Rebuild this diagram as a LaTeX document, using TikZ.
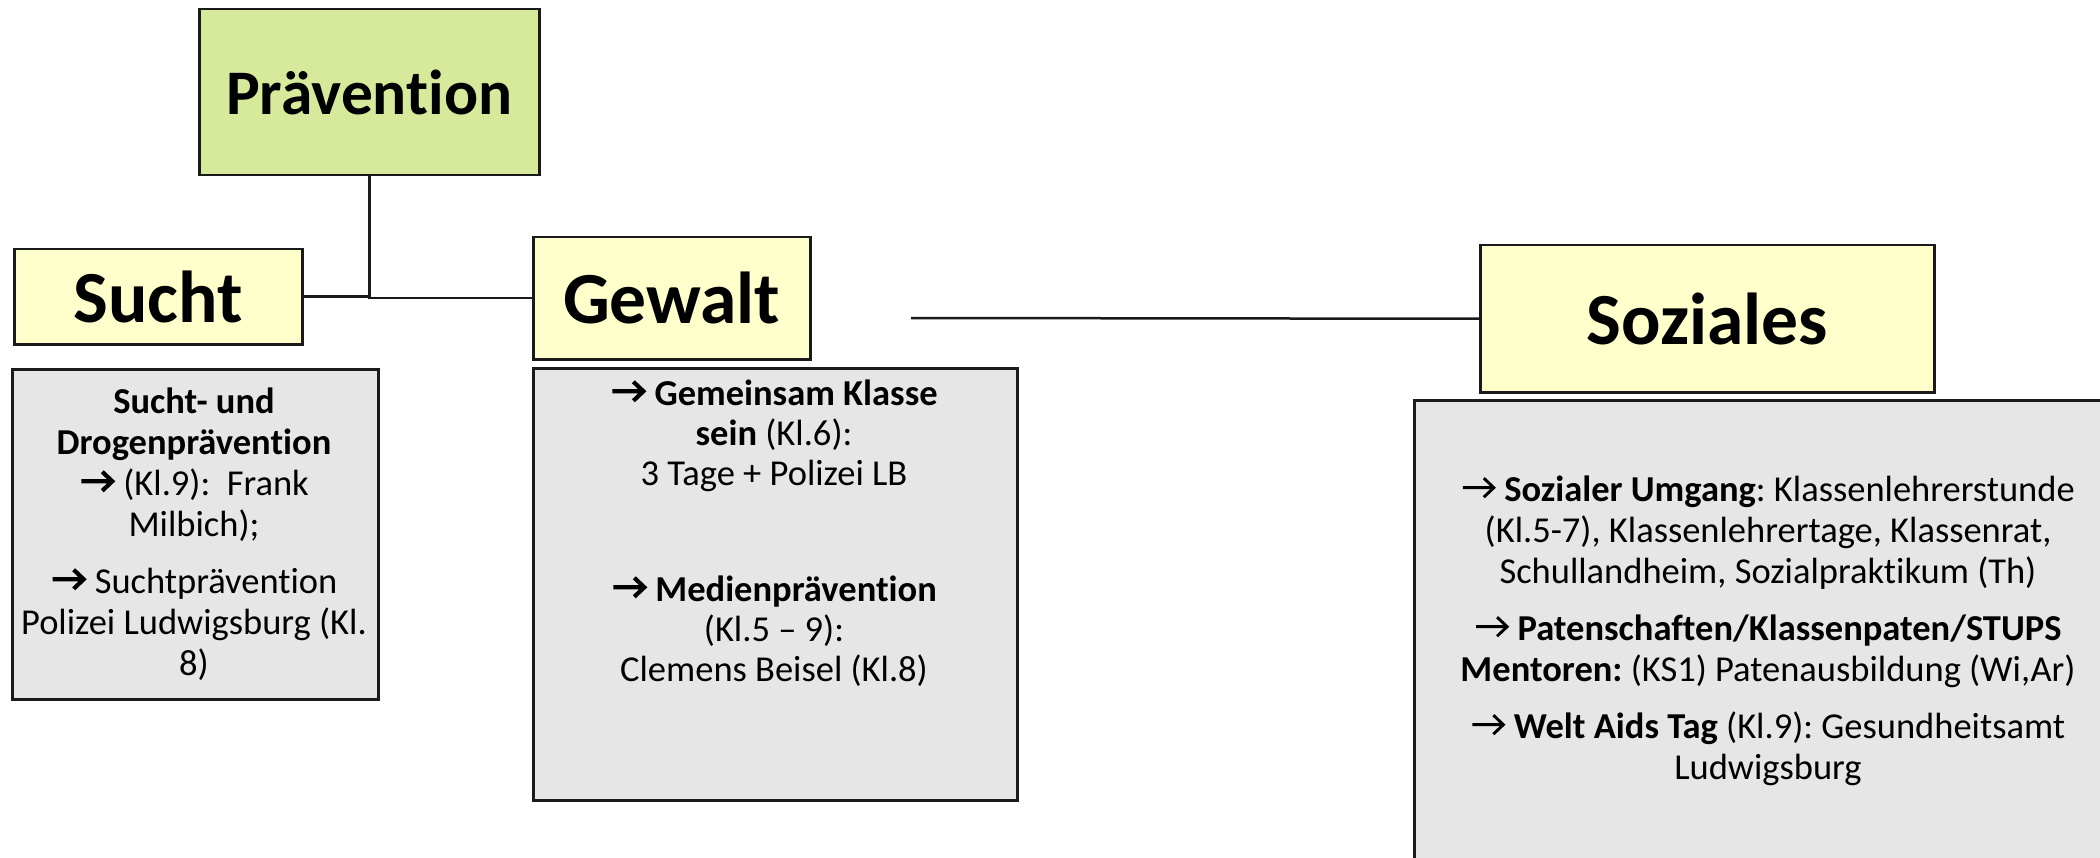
\documentclass[tikz,border=0pt]{standalone}
\usepackage{fontspec}
\setmainfont{Carlito}[Ligatures={NoCommon,NoContextual}]
\frenchspacing
\newcommand{\arrowglyph}[1]{\tikz[baseline=0pt,x=1pt,y=1pt]\draw[line width=#1, line join=miter, line cap=butt, draw=black] (0,14)--(31,14) (21,4.5)--(31,14)--(21,23.5);\hspace{9pt}}
\newcommand{\myarr}{\arrowglyph{2.9pt}}
\newcommand{\myarrb}{\arrowglyph{4.2pt}}
\definecolor{pgreen}{HTML}{D7E99B}
\definecolor{pyellow}{HTML}{FFFFCC}
\definecolor{pgray}{HTML}{E6E6E6}
\definecolor{pline}{HTML}{1A1A1A}
\begin{document}
\frenchspacing
\begin{tikzpicture}[x=1pt,y=-1pt,
  boxbase/.style={draw=pline, line width=2.5pt, inner sep=0pt, anchor=north west},
  greenbox/.style={boxbase, fill=pgreen, font=\fontsize{63.5}{74}\selectfont\bfseries},
  yellowbox/.style={boxbase, fill=pyellow, font=\fontsize{73.5}{86}\selectfont\bfseries},
  graybox/.style={boxbase, fill=pgray},
  bodytext/.style={align=center, inner sep=0pt, font=\fontsize{36.5}{41}\selectfont\frenchspacing},
  conn/.style={draw=pline, line width=2.5pt}]
\useasboundingbox (0,0) rectangle (2100,858);
\clip (0,0) rectangle (2100,858);

\node[greenbox, minimum width=340pt, minimum height=166pt] (prae) at (198,8) {Prävention};
\node[yellowbox, minimum width=288pt, minimum height=95pt] (sucht) at (13,248) {Sucht};
\node[yellowbox, minimum width=277pt, minimum height=122pt] (gewalt) at (532,236) {Gewalt};
\node[yellowbox, minimum width=454pt, minimum height=147pt] (soz) at (1479,244) {Soziales};

\node[graybox, minimum width=366pt, minimum height=330pt] (suchtbox) at (11,368) {};
\node[graybox, minimum width=484pt, minimum height=432pt] (gewaltbox) at (532,367) {};
\node[graybox, minimum width=720pt, minimum height=480pt] (sozbox) at (1413,399) {};

\draw[conn] (prae.south) |- (gewalt.west);
\draw[conn] (sucht.east) -- (sucht.east -| prae.south);
\coordinate (gsstart) at (911,318);
\draw[conn] (gsstart) -- (soz.west);

\node[bodytext] (suchttxt) at (194,534) {\textbf{Sucht- und}\\
\textbf{Drogenprävention}\\
\myarrb(Kl.9):~~Frank\\
Milbich);\\[16pt]
\myarrb Suchtprävention\\
Polizei Ludwigsburg (Kl.\\
8)};

\node[bodytext, font=\fontsize{36.5}{40}\selectfont\frenchspacing] (gewalttxt) at (774,533) {\myarrb\textbf{Gemeinsam Klasse}\\
\textbf{sein} (Kl.6):\\
3 Tage + Polizei LB\\[76pt]
\myarrb\textbf{Medienprävention}\\
(Kl.5 -- 9):\\
Clemens Beisel (Kl.8)};

\node[bodytext] (soztxt) at (1768,631) {\myarr\textbf{Sozialer Umgang}: Klassenlehrerstunde\\
(Kl.5-7), Klassenlehrertage, Klassenrat,\\
Schullandheim, Sozialpraktikum (Th)\\[16pt]
\myarr\textbf{Patenschaften/Klassenpaten/STUPS}\\
\textbf{Mentoren:} (KS1) Patenausbildung (Wi,Ar)\\[16pt]
\myarr\textbf{Welt Aids Tag} (Kl.9): Gesundheitsamt\\
Ludwigsburg};
\end{tikzpicture}
\end{document}
